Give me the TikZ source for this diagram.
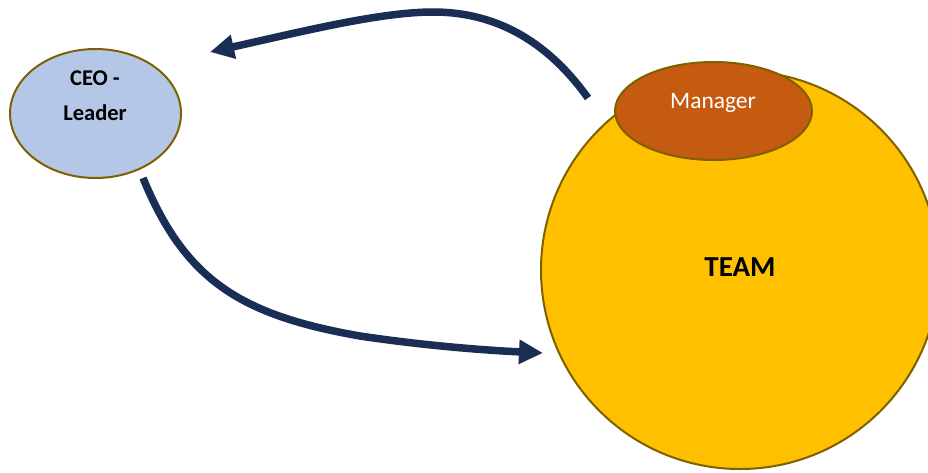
\documentclass[tikz,border=0pt]{standalone}
\usepackage{fontspec}
\setmainfont{Carlito}
\usetikzlibrary{shapes.geometric,arrows.meta}
\definecolor{navy}{RGB}{25,45,85}
\definecolor{ceofill}{HTML}{B4C7E7}
\definecolor{rim}{HTML}{7F6000}
\definecolor{mgrfill}{HTML}{C55A11}
\definecolor{teamfill}{HTML}{FFC000}
\tikzset{
  blob/.style={draw=rim, line width=2pt, inner sep=0pt},
  flow/.style={draw=navy, line width=7.5pt, -{Triangle[length=24pt,width=23pt]}},
  lbl/.style={inner sep=0pt}
}
\begin{document}
\begin{tikzpicture}[x=1pt,y=-1pt]
\clip (0,0) rectangle (928,472);
\fill[white] (0,0) rectangle (928,472);
% shapes
\node[blob, ellipse, fill=ceofill, minimum width=171pt, minimum height=129pt] (ceo) at (95.5,113.5) {};
\node[lbl, align=center, font=\fontsize{22.5}{35}\selectfont\bfseries] (ceotext) at (95,96.2) {CEO -\\Leader};
\node[blob, circle, fill=teamfill, minimum size=398pt] (team) at (740,270) {};
\node[lbl, anchor=base, font=\fontsize{29}{34}\selectfont\bfseries] (teamtext) at (740,276) {TEAM};
\node[blob, ellipse, fill=mgrfill, minimum width=197pt, minimum height=98pt] (mgr) at (713.5,111) {};
\node[lbl, anchor=base, text=white, font=\fontsize{23.5}{28}\selectfont] (mgrtext) at (713,108.3) {Manager};
% connector ends
\coordinate (upstart) at (588,98);
\coordinate (upend) at (210,52);
\coordinate (lowstart) at (143,178);
\coordinate (lowend) at (543,353);
% connectors
\draw[flow] (upstart) .. controls (550,45) and (500,12) .. (433,12)
  .. controls (380,12) and (300,32) .. (upend);
\draw[flow] (lowstart) .. controls (185,280) and (240,315) .. (360,336)
  .. controls (420,345) and (480,350) .. (lowend);
\end{tikzpicture}
\end{document}
